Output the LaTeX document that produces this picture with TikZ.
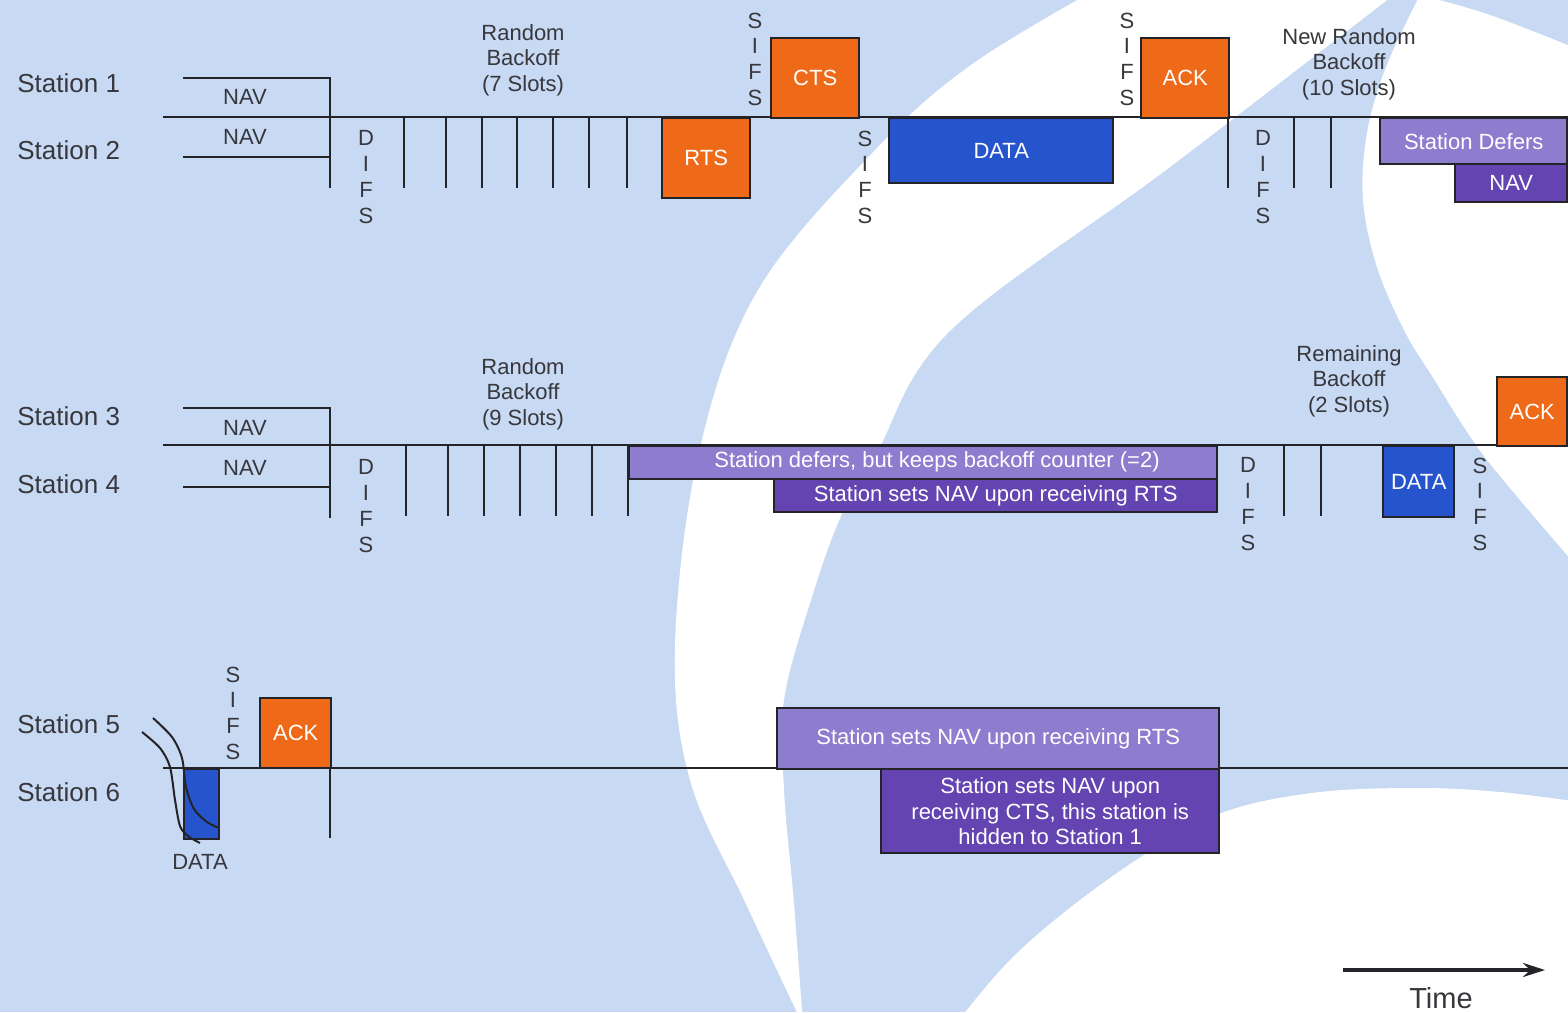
\documentclass[tikz,border=0pt]{standalone}
\usepackage{fontspec}
\setmainfont{Liberation Sans}
\usetikzlibrary{arrows.meta}
\definecolor{bgblue}{RGB}{199,217,243}
\definecolor{boxorange}{RGB}{238,106,24}
\definecolor{boxblue}{RGB}{38,84,204}
\definecolor{lpurple}{RGB}{142,124,206}
\definecolor{dpurple}{RGB}{100,68,176}
\definecolor{ink}{RGB}{35,35,40}
\definecolor{txt}{RGB}{55,55,60}
\begin{document}
\begin{tikzpicture}[x=0.5pt,y=-0.5pt,
  tl/.style={line width=1.3pt, draw=ink},
  crv/.style={line width=1pt, draw=ink},
  box/.style={draw=ink, line width=1.2pt, anchor=north west, inner sep=0pt,
    text=white, font=\fontsize{11}{12.75}\selectfont, align=center},
  obox/.style={box, fill=boxorange},
  bbox/.style={box, fill=boxblue},
  lbox/.style={box, fill=lpurple},
  dbox/.style={box, fill=dpurple},
  lbl/.style={text=txt, font=\fontsize{11}{12.75}\selectfont, align=center, inner sep=0pt},
  wlbl/.style={text=white, font=\fontsize{11}{12.75}\selectfont, align=center, inner sep=0pt},
  vlbl/.style={text=txt, font=\fontsize{11}{12.85}\selectfont, align=center, inner sep=0pt},
  stn/.style={text=txt, font=\fontsize{13}{15}\selectfont, anchor=west, inner sep=0pt}]
\useasboundingbox (0,0) rectangle (1568,1012);
% ---------- background ----------
\begin{scope}
\clip (0,0) rectangle (1568,1012);
\fill[bgblue] (0,0) rectangle (1568,1012);
\fill[white] plot[smooth, tension=0.6] coordinates {(1095,-10) (971,65) (877,148) (758,290) (699,452) (675,645) (690,780) (746,904) (803,1025)}
  -- plot[smooth, tension=0.6] coordinates {(803,1025) (794,904) (784,790) (784,700) (811,600) (841,516) (877,452) (951,330) (1170,167) (1400,-10)} -- cycle;
\fill[white] plot[smooth, tension=0.6] coordinates {(1420,-5) (1386,67) (1367,133) (1363,200) (1377,267) (1404,330) (1432,376) (1476,445) (1520,500) (1580,570)}
  -- (1580,50) -- plot[smooth, tension=0.6] coordinates {(1580,50) (1490,15) (1420,-5)} -- cycle;
\fill[white] plot[smooth, tension=0.6] coordinates {(955,1025) (1010,960) (1080,900) (1160,845) (1230,810) (1320,792) (1420,788) (1500,792) (1580,802)}
  -- (1580,1025) -- cycle;
\end{scope}
% ---------- Stations 1 / 2 ----------
\node[stn] (s1) at (17,83) {Station 1};
\node[stn] (s2) at (17,150) {Station 2};
\draw[tl] (163,117) -- (1568,117);
\draw[tl] (183,78) -- (330,78) -- (330,188);
\draw[tl] (183,157) -- (330,157);
\foreach \x in {404,446,482,517,553,589,627} \draw[tl] (\x,117) -- (\x,188);
\draw[tl] (1228,117) -- (1228,188);
\foreach \x in {1294,1331} \draw[tl] (\x,117) -- (\x,188);
\node[lbl] (nav1) at (245,97) {NAV};
\node[lbl] (nav2) at (245,137) {NAV};
\node[vlbl] (difs1) at (366,177) {D\\I\\F\\S};
\node[lbl] (rb1) at (523,60) {Random\\Backoff\\(7 Slots)};
\node[obox, minimum width=44pt, minimum height=40pt] (rts) at (661,117) {RTS};
\node[vlbl] (sifs1) at (755,59) {S\\I\\F\\S};
\node[obox, minimum width=44pt, minimum height=40pt] (cts) at (770,37) {CTS};
\node[vlbl] (sifs2) at (865,177) {S\\I\\F\\S};
\node[bbox, minimum width=112pt, minimum height=32.5pt] (data1) at (888,117) {DATA};
\node[vlbl] (sifs3) at (1127,59) {S\\I\\F\\S};
\node[obox, minimum width=44pt, minimum height=40pt] (ack1) at (1140,37) {ACK};
\node[vlbl] (difs2) at (1263,177) {D\\I\\F\\S};
\node[lbl] (rb2) at (1349,64) {New Random\\Backoff\\(10 Slots)};
\node[lbox, minimum width=93.5pt, minimum height=23pt] (def1) at (1379,117) {Station Defers};
\node[dbox, minimum width=56pt, minimum height=19pt] (nav1b) at (1454,163) {NAV};
% ---------- Stations 3 / 4 ----------
\node[stn] (s3) at (17,416) {Station 3};
\node[stn] (s4) at (17,484) {Station 4};
\draw[tl] (163,445) -- (1568,445);
\draw[tl] (183,408) -- (330,408) -- (330,518);
\draw[tl] (183,487) -- (330,487);
\foreach \x in {406,448,484,520,556,592,628} \draw[tl] (\x,445) -- (\x,516);
\foreach \x in {1284,1321} \draw[tl] (\x,445) -- (\x,516);
\node[lbl] (nav3) at (245,428) {NAV};
\node[lbl] (nav4) at (245,468) {NAV};
\node[vlbl] (difs3) at (366,506) {D\\I\\F\\S};
\node[lbl] (rb3) at (523,394) {Random\\Backoff\\(9 Slots)};
\node[lbox, minimum width=294pt, minimum height=16.5pt] (def2) at (628,445) {};
\node[wlbl] (def2t) at (937,462) {Station defers, but keeps backoff counter (=2)};
\node[dbox, minimum width=221.5pt, minimum height=16.5pt] (navrts2) at (773,478) {Station sets NAV upon receiving RTS};
\node[vlbl] (difs4) at (1248,504) {D\\I\\F\\S};
\node[lbl] (rb4) at (1349,381) {Remaining\\Backoff\\(2 Slots)};
\node[bbox, minimum width=35.5pt, minimum height=35.5pt] (data2) at (1382,445) {DATA};
\node[vlbl] (sifs4) at (1480,504) {S\\I\\F\\S};
\node[obox, minimum width=35pt, minimum height=34.5pt] (ack2) at (1496,376) {ACK};
% ---------- Stations 5 / 6 ----------
\node[stn] (s5) at (17,724) {Station 5};
\node[stn] (s6) at (17,792) {Station 6};
\draw[tl] (163,768) -- (1568,768);
\draw[tl] (330,768) -- (330,838);
\node[bbox, minimum width=17.5pt, minimum height=35pt] (data3) at (183,768) {};
\draw[crv] plot[smooth] coordinates {(142,732) (160,748) (170,767) (175,800) (180,826) (188,836) (200,843)};
\draw[crv] plot[smooth] coordinates {(153,718) (172,737) (182,758) (186,787) (194,809) (207,822) (219,828)};
\node[lbl] (data3l) at (200,862) {DATA};
\node[vlbl] (sifs5) at (233,713) {S\\I\\F\\S};
\node[obox, minimum width=35.5pt, minimum height=35pt] (ack3) at (259,697) {ACK};
\node[lbox, minimum width=221pt, minimum height=30.5pt] (navrts3) at (776,707) {Station sets NAV upon receiving RTS};
\node[dbox, minimum width=169pt, minimum height=42pt] (navcts3) at (880,768) {Station sets NAV upon\\receiving CTS, this station is\\hidden to Station 1};
% ---------- time arrow ----------
\coordinate (t0) at (1343,970);
\coordinate (t1) at (1545,970);
\draw[line width=1.6pt, draw=ink, -{Stealth[length=11pt,width=7pt]}] (t0) -- (t1);
\node[text=txt, font=\fontsize{14.5}{16}\selectfont, inner sep=0pt] (time) at (1441,998) {Time};
\end{tikzpicture}
\end{document}
